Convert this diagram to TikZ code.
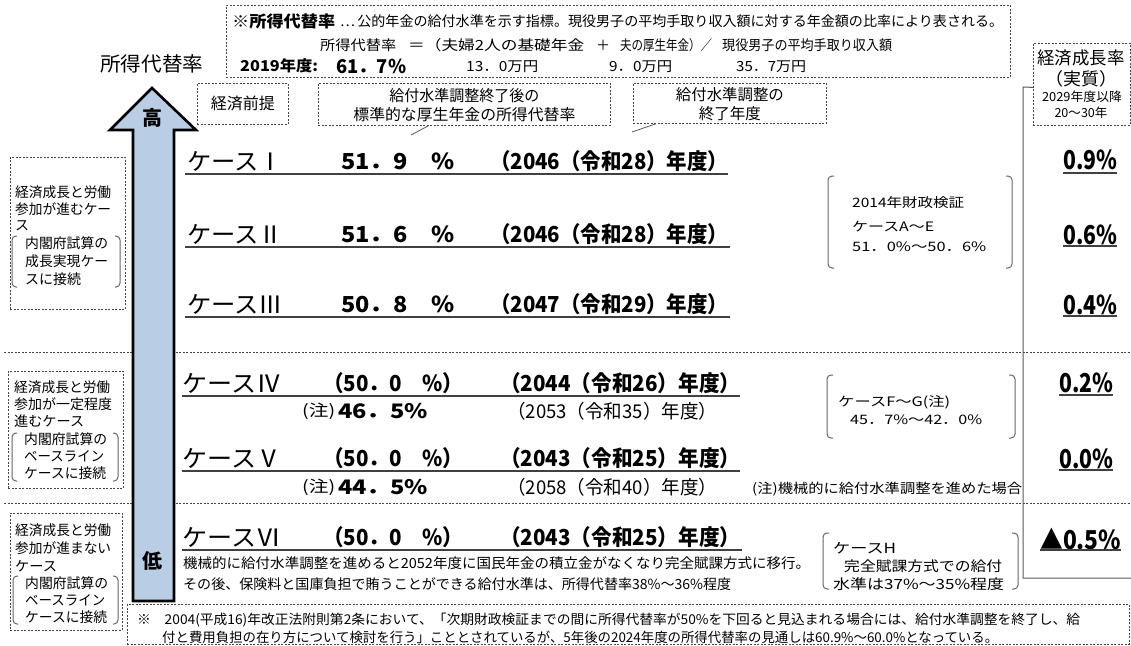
\documentclass[tikz,border=0pt]{standalone}
\usepackage{fontspec}
\usepackage{graphicx}
\setmainfont{Noto Sans CJK JP}
\definecolor{arrowblue}{RGB}{185,205,228}
\definecolor{lgray}{RGB}{70,70,70}
\newcommand\T[3]{\resizebox{#1pt}{\height}{\fontsize{#2pt}{#2pt}\selectfont #3}}
\newcommand\TB[3]{\resizebox{#1pt}{\height}{\fontsize{#2pt}{#2pt}\selectfont\bfseries #3}}
\begin{document}
\begin{tikzpicture}[x=1pt,y=-1pt,
  t/.style={inner sep=0pt,anchor=west},
  tc/.style={inner sep=0pt,anchor=center},
  dbox/.style={draw=lgray,dash pattern=on 2pt off 1.5pt,line width=0.8pt,inner sep=0pt,anchor=north west},
  sepl/.style={draw=lgray,dash pattern=on 2pt off 1.5pt,line width=0.8pt},
  uline/.style={line width=1.5pt,draw=black!75},
  brk/.style={draw=gray!80!black,line width=1pt,rounded corners=4pt},
  solidl/.style={draw=gray!70!black,line width=1pt}]
\useasboundingbox (0,0) rectangle (1131,645);

% ---------- top definition box ----------
\node[dbox,minimum width=784pt,minimum height=72pt] (topbox) at (226,5) {};
\node[t] (d1a) at (232,21) {\TB{103}{16}{※所得代替率}};
\node[t] (d1b) at (340,21) {\T{663}{14}{…\,公的年金の給付水準を示す指標。現役男子の平均手取り収入額に対する年金額の比率により表される。}};
\node[t] (d2a) at (320,45) {\T{76}{14}{所得代替率}};
\node[t] (d2b) at (408,45) {\T{176}{14}{＝（夫婦2人の基礎年金}};
\node[t] (d2c) at (596,45) {\T{14}{14}{＋}};
\node[t] (d2d) at (620,45) {\T{92}{14}{夫の厚生年金）／}};
\node[t] (d2e) at (722,45) {\T{170}{14}{現役男子の平均手取り収入額}};
\node[t] (d3a) at (240,66) {\TB{78}{15}{2019年度:}};
\node[t] (d3b) at (336,66) {\TB{70}{19}{61．7\%}};
\node[t] (d3c) at (466,67) {\T{72}{14}{13．0万円}};
\node[t] (d3d) at (609,67) {\T{63}{14}{9．0万円}};
\node[t] (d3e) at (736,67) {\T{70}{14}{35．7万円}};

% ---------- title ----------
\node[t] (title) at (100,64) {\T{103}{20}{所得代替率}};

% ---------- header boxes ----------
\node[dbox,minimum width=91pt,minimum height=41pt] (b1) at (197,83) {};
\node[tc] (b1t) at (b1.center) {\T{64}{16}{経済前提}};
\node[dbox,minimum width=292pt,minimum height=42pt] (b2) at (318,83) {};
\node[tc] (b2t1) at ([yshift=9pt]b2.center) {\T{150}{15.5}{給付水準調整終了後の}};
\node[tc] (b2t2) at ([yshift=-10pt]b2.center) {\T{222}{15.5}{標準的な厚生年金の所得代替率}};
\node[dbox,minimum width=193pt,minimum height=40pt] (b3) at (633,83) {};
\node[tc] (b3t1) at ([yshift=9pt]b3.center) {\T{108}{15.5}{給付水準調整の}};
\node[tc] (b3t2) at ([yshift=-10pt]b3.center) {\T{62}{15.5}{終了年度}};
\coordinate (cp2) at (411,135);
\coordinate (cp3) at (632,132);
\draw[solidl,line width=0.8pt] ([xshift=-36pt]b2.south) -- (cp2);
\draw[solidl,line width=0.8pt] ([xshift=-74pt]b3.south) -- (cp3);

% ---------- growth rate box ----------
\node[dbox,minimum width=97pt,minimum height=82pt] (gbox) at (1033,43) {};
\node[tc] (g1) at (1081,58) {\T{87}{17.5}{経済成長率}};
\node[tc] (g2) at (1081,79) {\T{72}{17.5}{（実質）}};
\node[tc] (g3) at (1082,97) {\T{80}{12.5}{2029年度以降}};
\node[tc] (g4) at (1081,113) {\T{53}{12.5}{20～30年}};
\coordinate (gc1) at (1023,87);
\coordinate (gc2) at (1023,578);
\coordinate (gend) at (1131,578);

% ---------- separators ----------
\draw[sepl] (4,352) -- (1131,352);
\draw[sepl] (4,503) -- (1131,503);
\draw[solidl] ([yshift=-3pt]gbox.west) -- (gc1) -- (gc2) -- (gend);

% ---------- big arrow ----------
\draw[line width=2.6pt,fill=arrowblue,line join=miter]
  (133,601) -- (133,130) -- (110,130) -- (152,88) -- (196,130) -- (174,130) -- (174,601) -- cycle;
\node[tc] (hi) at (152,118) {\TB{20}{20}{高}};
\node[tc] (lo) at (152,561) {\TB{20}{20}{低}};

% ---------- left boxes ----------
\node[dbox,minimum width=115pt,minimum height=152pt] (la) at (10,157) {};
\node[t] (la1) at (15,192) {\T{96}{14}{経済成長と労働}};
\node[t] (la2) at (15,209) {\T{96}{14}{参加が進むケー}};
\node[t] (la3) at (15,226) {\T{14}{14}{ス}};
\node[t] (la4) at (25,243) {\T{83}{14}{内閣府試算の}};
\node[t] (la5) at (25,261) {\T{83}{14}{成長実現ケー}};
\node[t] (la6) at (25,279) {\T{56}{14}{スに接続}};
\draw[brk] (17,236) -- (12,236) -- (12,287) -- (17,287);
\draw[brk] (115,236) -- (120,236) -- (120,287) -- (115,287);

\node[dbox,minimum width=115pt,minimum height=117pt] (lb) at (8,371) {};
\node[t] (lb1) at (14,387) {\T{96}{14}{経済成長と労働}};
\node[t] (lb2) at (14,404) {\T{98}{14}{参加が一定程度}};
\node[t] (lb3) at (14,421) {\T{70}{14}{進むケース}};
\node[t] (lb4) at (24,439) {\T{83}{14}{内閣府試算の}};
\node[t] (lb5) at (24,456) {\T{80}{14}{ベースライン}};
\node[t] (lb6) at (24,473) {\T{82}{14}{ケースに接続}};
\draw[brk] (17,433) -- (12,433) -- (12,481) -- (17,481);
\draw[brk] (113,433) -- (118,433) -- (118,481) -- (113,481);

\node[dbox,minimum width=112pt,minimum height=117pt] (lc) at (10,513) {};
\node[t] (lc1) at (15,530) {\T{96}{14}{経済成長と労働}};
\node[t] (lc2) at (15,548) {\T{96}{14}{参加が進まない}};
\node[t] (lc3) at (15,566) {\T{42}{14}{ケース}};
\node[t] (lc4) at (25,583) {\T{83}{14}{内閣府試算の}};
\node[t] (lc5) at (25,600) {\T{80}{14}{ベースライン}};
\node[t] (lc6) at (25,617) {\T{82}{14}{ケースに接続}};
\draw[brk] (18,576) -- (13,576) -- (13,624) -- (18,624);
\draw[brk] (113,576) -- (118,576) -- (118,624) -- (113,624);

% ---------- cases I-III ----------
\node[t] (c1) at (187,161) {\T{96}{24}{ケースⅠ}};
\node[t] (p1) at (341,161) {\TB{113}{22}{51．9　\%}};
\node[t] (y1) at (490,161) {\TB{238}{22}{（2046（令和28）年度）}};
\draw[uline] (185,174) -- (728,174);
\node[t] (c2) at (187,234) {\T{96}{24}{ケースⅡ}};
\node[t] (p2) at (341,234) {\TB{113}{22}{51．6　\%}};
\node[t] (y2) at (490,234) {\TB{238}{22}{（2046（令和28）年度）}};
\draw[uline] (185,247) -- (730,247);
\node[t] (c3) at (187,304) {\T{96}{24}{ケースⅢ}};
\node[t] (p3) at (341,304) {\TB{113}{22}{50．8　\%}};
\node[t] (y3) at (490,304) {\TB{238}{22}{（2047（令和29）年度）}};
\draw[uline] (185,317) -- (730,317);

% ---------- cases IV-VI ----------
\node[t] (c4) at (182,383) {\T{99}{24}{ケースⅣ}};
\node[t] (p4) at (323,383) {\TB{140}{22}{（50．0　\%）}};
\node[t] (y4) at (500,383) {\TB{240}{22}{（2044（令和26）年度）}};
\draw[uline] (182,396) -- (740,396);
\node[t] (n4a) at (302,411) {\T{33}{16}{(注)}};
\node[t] (n4b) at (338,411) {\TB{90}{20}{46．5\%}};
\node[t] (n4c) at (507,411) {\T{210}{19}{（2053（令和35）年度）}};

\node[t] (c5) at (182,458) {\T{99}{24}{ケースⅤ}};
\node[t] (p5) at (323,458) {\TB{140}{22}{（50．0　\%）}};
\node[t] (y5) at (500,458) {\TB{240}{22}{（2043（令和25）年度）}};
\draw[uline] (182,471) -- (740,471);
\node[t] (n5a) at (302,487) {\T{33}{16}{(注)}};
\node[t] (n5b) at (338,487) {\TB{90}{20}{44．5\%}};
\node[t] (n5c) at (507,487) {\T{210}{19}{（2058（令和40）年度）}};
\node[t] (n5d) at (752,489) {\T{270}{13.5}{(注)機械的に給付水準調整を進めた場合}};

\node[t] (c6) at (182,537) {\T{99}{24}{ケースⅥ}};
\node[t] (p6) at (323,537) {\TB{140}{22}{（50．0　\%）}};
\node[t] (y6) at (500,537) {\TB{240}{22}{（2043（令和25）年度）}};
\draw[uline] (182,550) -- (742,550);
\node[t] (n6a) at (183,563) {\T{627}{14}{機械的に給付水準調整を進めると2052年度に国民年金の積立金がなくなり完全賦課方式に移行。}};
\node[t] (n6b) at (183,584) {\T{548}{14}{その後、保険料と国庫負担で賄うことができる給付水準は、所得代替率38\%～36\%程度}};

% ---------- right brackets ----------
\draw[brk] (834,176) -- (828,176) -- (828,268) -- (834,268);
\draw[brk] (1006,176) -- (1012,176) -- (1012,268) -- (1006,268);
\node[t] (r1a) at (852,203) {\T{112}{13}{2014年財政検証}};
\node[t] (r1b) at (852,227) {\T{82}{13}{ケースA～E}};
\node[t] (r1c) at (852,247) {\T{134}{13}{51．0\%～50．6\%}};

\draw[brk] (833,375) -- (827,375) -- (827,438) -- (833,438);
\draw[brk] (1009,375) -- (1015,375) -- (1015,438) -- (1009,438);
\node[t] (r2a) at (838,402) {\T{112}{13}{ケースF～G(注)}};
\node[t] (r2b) at (850,420) {\T{132}{13}{45．7\%～42．0\%}};

\draw[brk] (829,533) -- (823,533) -- (823,589) -- (829,589);
\draw[brk] (1012,533) -- (1018,533) -- (1018,589) -- (1012,589);
\node[t] (r3a) at (833,548) {\T{63}{14}{ケースH}};
\node[t] (r3b) at (844,566) {\T{158}{14}{完全賦課方式での給付}};
\node[t] (r3c) at (833,584) {\T{171}{14}{水準は37\%～35\%程度}};

% ---------- growth rates ----------
\node[t] (gr1) at (1063,160) {\TB{54}{26}{0.9\%}};
\draw[uline] (1063,173) -- (1117,173);
\node[t] (gr2) at (1063,235) {\TB{54}{26}{0.6\%}};
\draw[uline] (1063,246) -- (1117,246);
\node[t] (gr3) at (1063,305) {\TB{54}{26}{0.4\%}};
\draw[uline] (1063,316) -- (1117,316);
\node[t] (gr4) at (1059,383) {\TB{54}{26}{0.2\%}};
\draw[uline] (1059,395) -- (1113,395);
\node[t] (gr5) at (1059,459) {\TB{54}{26}{0.0\%}};
\draw[uline] (1059,470) -- (1113,470);
\node[t] (gr6) at (1040,539) {\TB{81}{26}{▲0.5\%}};
\draw[uline] (1040,550) -- (1121,550);

% ---------- bottom note ----------
\node[dbox,minimum width=1002pt,minimum height=40pt] (note) at (127,604) {};
\node[t] (nt1) at (137,620) {\T{943}{13.5}{※　2004(平成16)年改正法附則第2条において、「次期財政検証までの間に所得代替率が50\%を下回ると見込まれる場合には、給付水準調整を終了し、給}};
\node[t] (nt2) at (162,637) {\T{836}{13.5}{付と費用負担の在り方について検討を行う」こととされているが、5年後の2024年度の所得代替率の見通しは60.9\%～60.0\%となっている。}};
\end{tikzpicture}
\end{document}
